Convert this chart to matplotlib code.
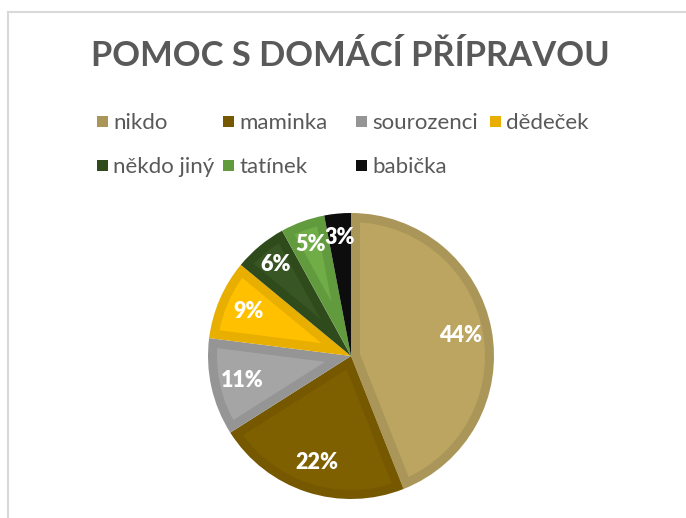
import numpy as np
import matplotlib
matplotlib.use("Agg")
import matplotlib.pyplot as plt
from matplotlib.patches import Wedge, Circle, Rectangle
from matplotlib.lines import Line2D

labels = ["nikdo", "maminka", "sourozenci", "dědeček", "někdo jiný", "tatínek", "babička"]
values = [44, 22, 11, 9, 6, 5, 3]
title = "POMOC S DOMÁCÍ PŘÍPRAVOU"

rim_colors = ["#AA9658", "#755800", "#959595", "#E8AE00", "#2F4B1C", "#629B3E", "#0D0D0D"]
fill_colors = ["#BCA461", "#7F6000", "#A5A5A5", "#FFC000", "#375623", "#70AD47", "#0D0D0D"]

FONT = ["Lato", "DejaVu Sans"]
plt.rcParams["font.family"] = FONT

W, H = 686, 518
fig = plt.figure(figsize=(W / 100, H / 100), dpi=100)
fig.patch.set_facecolor("white")

# chart border (light gray, top and left visible)
fig.add_artist(Line2D([8 / W, 8 / W], [0, 1 - 12 / H], transform=fig.transFigure, color="#D9D9D9", lw=1.5))
fig.add_artist(Line2D([8 / W, 1], [1 - 12 / H, 1 - 12 / H], transform=fig.transFigure, color="#D9D9D9", lw=1.5))

# title
fig.text(350 / W, 1 - 56 / H, title, ha="center", va="center", fontsize=24.8, fontweight="bold", color="#595959")

# pie
cx, cy, R = 351, 356, 143
ax = fig.add_axes([(cx - R) / W, (H - cy - R) / H, 2 * R / W, 2 * R / H])
wedges, _ = ax.pie(values, colors=rim_colors, startangle=90, counterclock=False, radius=1,
                   wedgeprops=dict(linewidth=0))
ax.set_xlim(-1, 1)
ax.set_ylim(-1, 1)
ax.set_aspect("equal")
ax.axis("off")

d = 9 / R
for w, fc in zip(wedges, fill_colors):
    t1, t2 = w.theta1, w.theta2
    alpha = np.radians(t2 - t1)
    mid = np.radians((t1 + t2) / 2)
    shift = d / np.sin(alpha / 2)
    c = (shift * np.cos(mid), shift * np.sin(mid))
    inner = Wedge(c, 3, t1, t2, facecolor=fc, linewidth=0)
    ax.add_patch(inner)
    clip = Circle((0, 0), 1 - d, transform=ax.transData)
    inner.set_clip_path(clip)

    pct = (t2 - t1) / 360 * 100
    dist = 0.78 if pct > 7 else 0.83
    ax.text(dist * np.cos(mid), dist * np.sin(mid), f"{pct:.0f}%", ha="center", va="center",
            color="white", fontsize=15.5, fontweight="heavy")

# legend: 4 columns, row-wise
col_x = [97, 223, 356, 490]
row_y = [121, 165]
sq = 11
for i, (lab, col) in enumerate(zip(labels, rim_colors)):
    r, cidx = divmod(i, 4)
    x, y = col_x[cidx], row_y[r]
    fig.add_artist(Rectangle((x / W, (H - y - sq / 2) / H), sq / W, sq / H,
                             transform=fig.transFigure, facecolor=col, edgecolor="none"))
    fig.text((x + sq + 5) / W, 1 - y / H, lab, ha="left", va="center_baseline",
             fontsize=16, color="#595959")

fig.savefig("out.png", dpi=100)
